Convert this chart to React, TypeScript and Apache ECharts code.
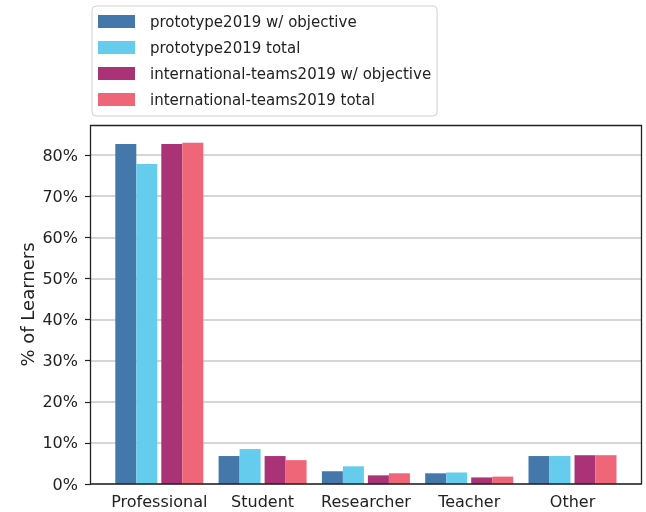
import React, { useEffect, useRef } from "react";
import * as echarts from "echarts";

const categories = ["Professional", "Student", "Researcher", "Teacher", "Other"];
const prototypeObjective = [82.7, 6.8, 3.1, 2.6, 6.8];
const prototypeTotal = [77.8, 8.5, 4.3, 2.8, 6.8];
const intlObjective = [82.7, 6.8, 2.1, 1.6, 7.0];
const intlTotal = [83.0, 5.8, 2.6, 1.8, 7.0];
const yTicks = [0, 10, 20, 30, 40, 50, 60, 70, 80];

const seriesNames = [
  "prototype2019 w/ objective",
  "prototype2019 total",
  "international-teams2019 w/ objective",
  "international-teams2019 total",
];
const colors = ["#4477AA", "#66CCEE", "#AA3377", "#EE6677"];

const FONT = "DejaVu Sans";
const INK = "#222";

export default function App() {
  const ref = useRef<HTMLDivElement>(null);

  useEffect(() => {
    if (!ref.current) return;
    const chart = echarts.init(ref.current, null, { renderer: "svg" });

    // frame of the plotting area
    const frame = { left: 91, top: 125, width: 550, height: 359 };
    const pxPerPct = (frame.top + frame.height - 155) / 80;
    const yMax = frame.height / pxPerPct;
    const band = 103.3;
    const barLeft = frame.left + 68.3 - band / 2;

    const bar = (name: string, data: number[], color: string) => ({
      name,
      type: "bar",
      xAxisIndex: 1,
      yAxisIndex: 1,
      data,
      barWidth: 21,
      barGap: "0%",
      itemStyle: { color },
    });

    chart.setOption({
      animation: false,
      legend: {
        data: seriesNames,
        orient: "vertical",
        left: 92,
        top: 6,
        itemWidth: 37,
        itemHeight: 13,
        itemGap: 11,
        icon: "rect",
        padding: [8, 6, 9, 6],
        borderColor: "#d0d0d0",
        borderWidth: 1,
        borderRadius: 4,
        backgroundColor: "#fff",
        textStyle: {
          fontFamily: FONT,
          fontSize: 15,
          color: INK,
          padding: [0, 0, 0, 10],
        },
      },
      grid: [
        {
          left: frame.left,
          top: 155,
          width: frame.width,
          height: frame.top + frame.height - 155,
          outerBoundsMode: "none",
        },
        {
          left: barLeft,
          top: frame.top,
          width: band * 5,
          height: frame.height,
          outerBoundsMode: "none",
        },
      ],
      xAxis: [
        { type: "value", gridIndex: 0, show: false, min: 0, max: 1 },
        {
          type: "category",
          gridIndex: 1,
          data: categories,
          axisLine: { show: false },
          axisTick: { alignWithLabel: true, length: 6, lineStyle: { color: INK, width: 1.2 } },
          axisLabel: { interval: 0, fontFamily: FONT, fontSize: 16, color: INK, margin: 9 },
        },
      ],
      yAxis: [
        {
          type: "value",
          gridIndex: 0,
          min: yTicks[0],
          max: yTicks[yTicks.length - 1],
          interval: 10,
          axisLine: { show: false },
          axisTick: { show: true, length: 6, lineStyle: { color: INK, width: 1.2 } },
          axisLabel: {
            fontFamily: FONT,
            fontSize: 16,
            color: INK,
            margin: 13,
            formatter: (v: number) => `${v}%`,
          },
          splitLine: { lineStyle: { color: "#c8c8c8", width: 1.5 } },
        },
        {
          type: "value",
          gridIndex: 1,
          min: 0,
          max: yMax,
          axisLine: { show: false },
          axisTick: { show: false },
          axisLabel: { show: false },
          splitLine: { show: false },
          name: "% of Learners",
          nameLocation: "middle",
          nameGap: 71,
          nameTextStyle: { fontFamily: FONT, fontSize: 18, color: INK },
        },
      ],
      series: [
        bar(seriesNames[0], prototypeObjective, colors[0]),
        bar(seriesNames[1], prototypeTotal, colors[1]),
        {
          name: "spacer",
          type: "bar",
          xAxisIndex: 1,
          yAxisIndex: 1,
          data: categories.map(() => 0),
          barWidth: 4,
          barGap: "0%",
          itemStyle: { color: "transparent" },
          silent: true,
        },
        bar(seriesNames[2], intlObjective, colors[2]),
        bar(seriesNames[3], intlTotal, colors[3]),
      ],
      graphic: [
        {
          type: "rect",
          z: 100,
          silent: true,
          shape: {
            x: frame.left - 0.5,
            y: frame.top + 0.5,
            width: frame.width + 1,
            height: frame.height - 0.5,
          },
          style: { fill: "none", stroke: INK, lineWidth: 1.3 },
        },
      ],
    });

    return () => chart.dispose();
  }, []);

  return (
    <div
      ref={ref}
      style={{ position: "fixed", left: 0, top: 0, width: 646, height: 512 }}
    />
  );
}
